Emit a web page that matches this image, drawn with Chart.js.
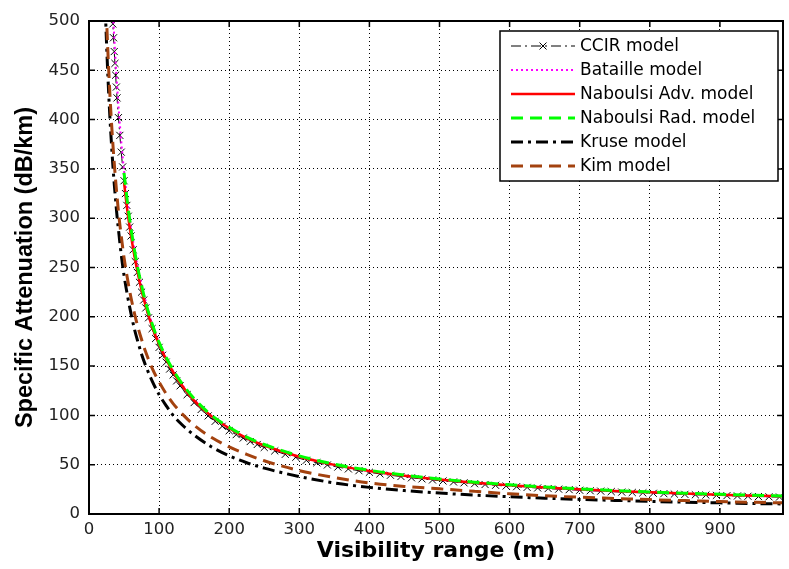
<!DOCTYPE html>
<html>
<head>
<meta charset="utf-8">
<title>Specific attenuation vs visibility range</title>
<script src="https://cdn.jsdelivr.net/npm/chart.js@4.4.0/dist/chart.umd.min.js"></script>
<style>
  html, body { margin: 0; padding: 0; background: #fff; }
  #wrap { width: 789px; height: 569px; }
</style>
</head>
<body>
<div id="wrap"><canvas id="chart" width="789" height="569"></canvas></div>
<script>
// visibility range (m), shared by the plain line models
const visibility = [22, 24, 26, 28, 30, 32, 34, 36, 38, 40, 43, 46, 50, 55, 60, 65, 70, 75, 80, 90,
    100, 110, 120, 135, 150, 175, 200, 225, 250, 300, 350, 400, 450, 500, 550, 600, 650, 700, 750,
    800, 850, 900, 950, 990];

// CCIR is drawn with a marker at every sample, so it has its own, denser range
const ccirVisibility = [32, 33, 34, 35, 36, 37, 38, 39, 40, 42, 44, 46, 48, 50, 52, 54, 56, 58, 60, 63,
    66, 69, 72, 75, 78, 81, 85, 90, 95, 100, 105, 110, 115, 120, 125, 130, 140, 150, 160, 170,
    180, 190, 200, 210, 220, 230, 240, 250, 265, 280, 295, 310, 325, 340, 355, 370, 385, 400, 415, 430,
    445, 460, 475, 490, 505, 520, 535, 550, 565, 580, 595, 610, 625, 640, 655, 670, 685, 700, 715, 730,
    745, 760, 775, 790, 805, 820, 835, 850, 865, 880, 895, 910, 925, 940, 955, 970, 985];

// specific attenuation (dB/km)
const ccir = [528, 512, 497, 483, 469, 457, 445, 433, 422, 402, 384, 367, 352, 338, 325, 313, 302, 291, 282, 268,
    256, 245, 235, 225, 217, 209, 199, 188, 178, 169, 161, 154, 147, 141, 135, 130, 121, 113, 106, 99.5,
    94, 89, 84.5, 80.5, 77, 73.5, 70.5, 67.5, 64, 60.5, 57.5, 54.5, 52, 49.7, 47.6, 45.7, 43.9, 42.3, 40.7, 39.3,
    38, 36.7, 35.6, 34.5, 33.5, 32.5, 31.6, 30.7, 29.9, 29.1, 28.4, 27.7, 27, 26.4, 25.8, 25.2, 24.7, 24.1, 23.6, 23.2,
    22.7, 22.2, 21.8, 21.4, 21, 20.6, 20.2, 19.9, 19.5, 19.2, 18.9, 18.6, 18.3, 18, 17.7, 17.4, 17.2];
const bataille = [null, null, null, null, null, 545, 512, 484, 458, 435, 405, 378, 348, 316, 290, 268, 249, 232, 218, 193,
    174, 158, 145, 129, 116, 99, 87, 77, 69.5, 58, 49.6, 43.4, 38.6, 34.7, 31.6, 29, 26.7, 24.8, 23.2,
    21.7, 20.4, 19.3, 18.3, 17.6];
const naboulsiAdv = [null, null, null, null, null, null, null, null, null, null, null, null, 336, 306, 282, 261, 243, 227, 213, 190,
    172, 157, 144, 128, 115, 99, 87, 77, 69.5, 58, 49.8, 43.6, 38.8, 35, 31.8, 29.2, 27, 25, 23.4,
    22, 20.7, 19.6, 18.6, 17.9];
const naboulsiRad = [null, null, null, null, null, null, null, null, null, null, null, null, 346, 315, 289, 267, 248, 232, 217, 193,
    174, 159, 146, 130, 117, 100, 88, 78, 70.5, 59, 50.5, 44.3, 39.4, 35.5, 32.3, 29.7, 27.4, 25.5, 23.8,
    22.4, 21.1, 20, 19, 18.3];
const kruse = [540, 497, 460, 428, 400, 376, 354, 335, 318, 302, 282, 263, 242, 221, 203, 187, 174, 162, 152, 135,
    121, 110, 100, 89, 80, 68, 59, 52, 46.5, 38, 31.5, 27, 23.8, 21.2, 19.2, 17.5, 16, 14.8, 13.8,
    12.8, 12, 11.3, 10.6, 10.2];
const kim = [570, 524, 485, 452, 423, 398, 376, 356, 338, 322, 300, 282, 260, 238, 219, 203, 189, 177, 166, 148,
    134, 122, 112, 100, 90, 77.5, 68, 60.5, 54, 44, 37, 31.5, 28, 25.5, 23, 20.5, 18.5, 17, 15.8,
    14.6, 13.6, 12.6, 11.8, 11.3];

const seriesNames = ['CCIR model', 'Bataille model', 'Naboulsi Adv. model', 'Naboulsi Rad. model', 'Kruse model', 'Kim model'];

const xTicks = [0, 100, 200, 300, 400, 500, 600, 700, 800, 900];
const yTicks = [0, 50, 100, 150, 200, 250, 300, 350, 400, 450, 500];

const WIDE_FONT = '"DejaVu Sans", Verdana, sans-serif';
const ARIAL_FONT = '"Liberation Sans", Arial, Helvetica, sans-serif';

function toPoints(xs, values) {
    const pts = [];
    values.forEach((v, i) => {
        if (v !== null) pts.push({ x: xs[i], y: v });
    });
    return pts;
}

function lineDataset(label, xs, values, color, width, dash, order) {
    return {
        label: label,
        data: toPoints(xs, values),
        borderColor: color,
        backgroundColor: color,
        borderWidth: width,
        borderDash: dash,
        pointRadius: 0,
        fill: false,
        cubicInterpolationMode: 'monotone',
        order: order // later matlab series end up on top
    };
}

// frame with inward tick marks, like a matlab axes box
const framePlugin = {
    id: 'frame',
    afterDatasetsDraw(chart) {
        const { ctx, chartArea: a, scales } = chart;
        ctx.save();
        ctx.strokeStyle = '#000';
        ctx.lineWidth = 2;
        ctx.setLineDash([]);
        ctx.strokeRect(a.left, a.top, a.right - a.left, a.bottom - a.top);
        const len = 6;
        ctx.lineWidth = 1.5;
        ctx.beginPath();
        xTicks.forEach(t => {
            const x = scales.x.getPixelForValue(t);
            ctx.moveTo(x, a.bottom); ctx.lineTo(x, a.bottom - len);
            ctx.moveTo(x, a.top); ctx.lineTo(x, a.top + len);
        });
        yTicks.forEach(t => {
            const y = scales.y.getPixelForValue(t);
            ctx.moveTo(a.left, y); ctx.lineTo(a.left + len, y);
            ctx.moveTo(a.right, y); ctx.lineTo(a.right - len, y);
        });
        ctx.stroke();
        ctx.restore();
    }
};

// boxed legend in the upper right corner
const legendPlugin = {
    id: 'boxLegend',
    afterDraw(chart) {
        const ctx = chart.ctx;
        const box = { left: 500, top: 31, right: 778, bottom: 181 };
        ctx.save();
        ctx.fillStyle = '#fff';
        ctx.fillRect(box.left, box.top, box.right - box.left, box.bottom - box.top);
        ctx.strokeStyle = '#000';
        ctx.lineWidth = 1.5;
        ctx.setLineDash([]);
        ctx.strokeRect(box.left, box.top, box.right - box.left, box.bottom - box.top);

        chart.data.datasets.forEach((ds, i) => {
            const y = 46 + i * 24;
            ctx.beginPath();
            ctx.strokeStyle = ds.borderColor;
            ctx.lineWidth = ds.borderWidth;
            ctx.setLineDash(ds.borderDash || []);
            ctx.moveTo(511, y);
            ctx.lineTo(575, y);
            ctx.stroke();
            if (ds.pointRadius > 0) {
                ctx.setLineDash([]);
                ctx.lineWidth = 1;
                const r = 3.5;
                ctx.beginPath();
                ctx.moveTo(543 - r, y - r); ctx.lineTo(543 + r, y + r);
                ctx.moveTo(543 - r, y + r); ctx.lineTo(543 + r, y - r);
                ctx.stroke();
            }
            ctx.fillStyle = '#000';
            ctx.font = '17px ' + WIDE_FONT;
            ctx.textBaseline = 'middle';
            ctx.textAlign = 'left';
            ctx.fillText(ds.label, 580, y + 1);
        });
        ctx.restore();
    }
};

function createChart() {
    const ctx = document.getElementById('chart').getContext('2d');

    const ccirSet = lineDataset(seriesNames[0], ccirVisibility, ccir, '#000', 1, [10, 4, 2, 4], 6);
    ccirSet.pointRadius = 5;
    ccirSet.pointStyle = 'crossRot';
    ccirSet.pointBorderWidth = 1;
    ccirSet.pointBorderColor = '#000';

    new Chart(ctx, {
        type: 'line',
        data: {
            datasets: [
                ccirSet,
                lineDataset(seriesNames[1], visibility, bataille, '#ff00ff', 2, [2, 3], 5),
                lineDataset(seriesNames[2], visibility, naboulsiAdv, '#ff0000', 2.5, [], 4),
                lineDataset(seriesNames[3], visibility, naboulsiRad, '#00ff00', 3, [12, 7], 3),
                lineDataset(seriesNames[4], visibility, kruse, '#000', 3, [12, 5, 3, 5], 2),
                lineDataset(seriesNames[5], visibility, kim, '#a3420f', 3, [12, 7], 1)
            ]
        },
        options: {
            responsive: false,
            animation: false,
            devicePixelRatio: 1,
            layout: { padding: { top: 21, right: 1, bottom: 0, left: 0 } },
            plugins: {
                legend: { display: false },
                tooltip: { enabled: false }
            },
            scales: {
                x: {
                    type: 'linear',
                    min: 0,
                    max: 990,
                    afterBuildTicks: scale => { scale.ticks = xTicks.map(v => ({ value: v })); },
                    afterFit: scale => { scale.height = 55; },
                    grid: { color: '#000', lineWidth: 1, drawTicks: false },
                    border: { display: false, dash: [1, 3] },
                    ticks: {
                        padding: 6,
                        maxRotation: 0,
                        color: '#222',
                        font: { family: WIDE_FONT, size: 16.5 }
                    },
                    title: {
                        display: true,
                        text: 'Visibility range (m)',
                        color: '#000',
                        font: { family: WIDE_FONT, size: 22, weight: 'bold' },
                        padding: { top: 0, bottom: 5 }
                    }
                },
                y: {
                    min: 0,
                    max: 500,
                    afterBuildTicks: scale => { scale.ticks = yTicks.map(v => ({ value: v })); },
                    afterFit: scale => { scale.width = 89; },
                    grid: { color: '#000', lineWidth: 1, drawTicks: false },
                    border: { display: false, dash: [1, 3] },
                    ticks: {
                        padding: 9,
                        color: '#222',
                        font: { family: WIDE_FONT, size: 16.5 }
                    },
                    title: {
                        display: true,
                        text: 'Specific Attenuation (dB/km)',
                        color: '#000',
                        font: { family: ARIAL_FONT, size: 23.5, weight: 'bold' },
                        padding: { top: 11, bottom: 0 }
                    }
                }
            }
        },
        plugins: [framePlugin, legendPlugin]
    });
}

document.addEventListener('DOMContentLoaded', createChart);
</script>
</body>
</html>
